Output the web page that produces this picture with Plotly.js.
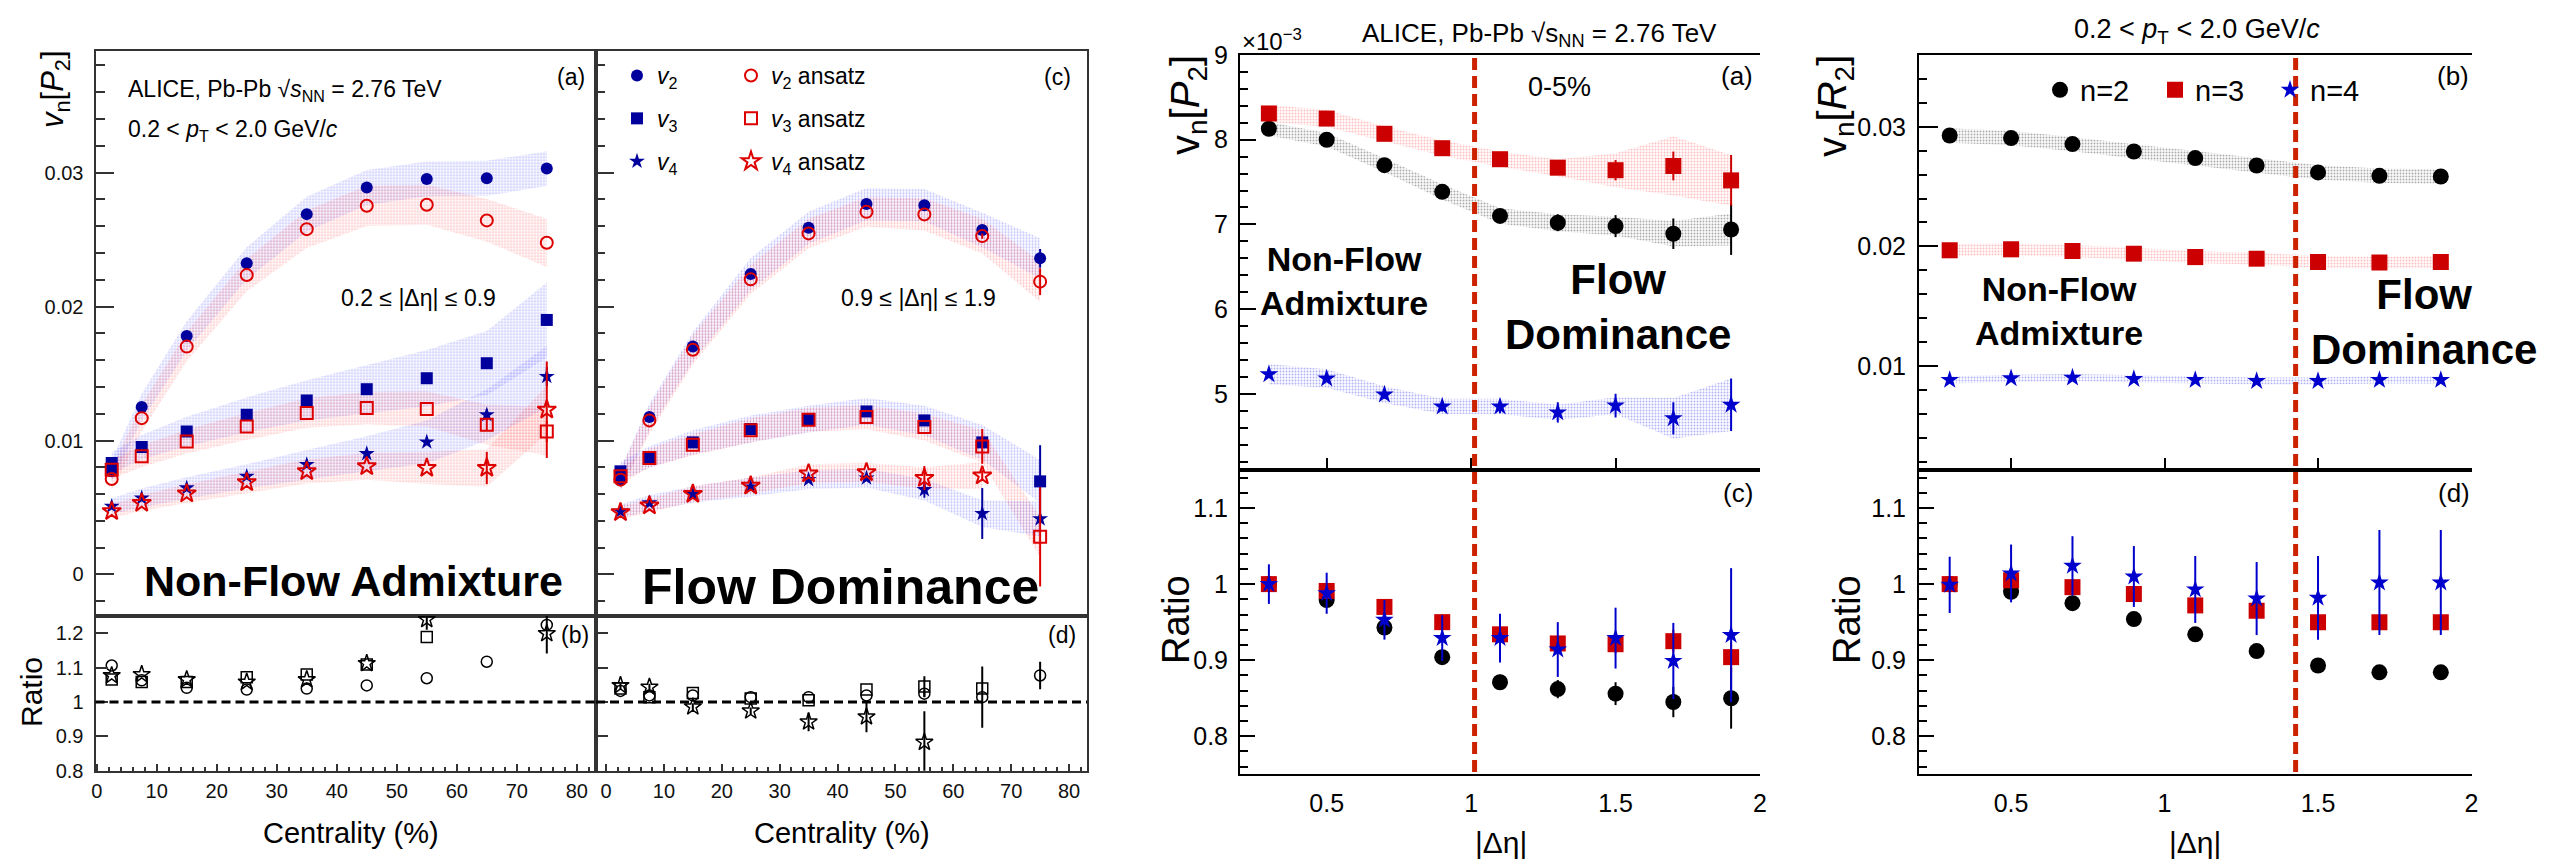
<!DOCTYPE html>
<html><head><meta charset="utf-8">
<script src="https://cdn.plot.ly/plotly-3.0.1.min.js"></script>
<style>html,body{margin:0;padding:0;background:#fff;} #chart{width:2559px;height:863px;}</style>
</head><body><div id="chart"></div>
<script>
// ---------------- DATA ----------------
// Left figure: centrality dependence
const centrality = [2.5, 7.5, 15, 25, 35, 45, 55, 65, 75];
// (a) 0.2 <= |deta| <= 0.9
const a_v2      = [0.0077, 0.0125, 0.01781, 0.02323, 0.0269, 0.02889, 0.02953, 0.02958, 0.0303];
const a_v2ans   = [0.00713, 0.01167, 0.01701, 0.02235, 0.02578, 0.02752, 0.0276, 0.02643, 0.02476];
const a_v3      = [0.00832, 0.00951, 0.01068, 0.01192, 0.01299, 0.01383, 0.01465, 0.01577, 0.0190];
const a_v3ans   = [0.00782, 0.00882, 0.00993, 0.01105, 0.01205, 0.01242, 0.01235, 0.01118, 0.01068];
const a_v4      = [0.00509, 0.00571, 0.00646, 0.00733, 0.0082, 0.00902, 0.00989, 0.01192, 0.01478];
const a_v4ans   = [0.00472, 0.00534, 0.00604, 0.00688, 0.0077, 0.00807, 0.00795, 0.00795, 0.0123];
const a_v3err    = [0, 0, 0, 0, 0, 0, 0, 0, 0.0004];
const a_v3anserr = [0, 0, 0, 0, 0, 0, 0, 0.0004, 0.0008];
const a_v4err    = [0, 0, 0, 0, 0, 0, 0, 0.0004, 0.0007];
const a_v4anserr = [0, 0, 0, 0, 0, 0, 0, 0.0012, 0.0036];
const a_v2sys    = [0.0008, 0.0010, 0.0011, 0.0012, 0.0013, 0.0013, 0.0013, 0.0013, 0.0013];
const a_v2anssys = [0.0008, 0.0010, 0.0011, 0.0012, 0.0014, 0.0015, 0.0015, 0.0016, 0.0018];
const a_v3sys    = [0.0008, 0.0009, 0.0011, 0.0013, 0.0015, 0.0018, 0.0021, 0.0024, 0.0028];
const a_v3anssys = [0.0007, 0.0008, 0.0009, 0.0010, 0.0011, 0.0012, 0.0013, 0.0015, 0.0018];
const a_v4sys    = [0.0006, 0.0007, 0.0008, 0.0009, 0.0011, 0.0013, 0.0016, 0.0019, 0.0023];
const a_v4anssys = [0.0005, 0.0006, 0.0007, 0.0008, 0.0009, 0.0010, 0.0012, 0.0014, 0.0018];
// (c) 0.9 <= |deta| <= 1.9
const c_v2      = [0.00705, 0.01175, 0.01701, 0.02243, 0.02588, 0.02765, 0.02757, 0.02571, 0.0236];
const c_v2ans   = [0.00708, 0.0115, 0.01677, 0.02203, 0.02546, 0.02707, 0.02688, 0.02526, 0.02186];
const c_v3      = [0.0077, 0.00877, 0.00986, 0.01086, 0.0116, 0.01217, 0.0115, 0.00986, 0.00695];
const c_v3ans   = [0.00733, 0.0087, 0.00969, 0.01076, 0.01155, 0.01175, 0.011, 0.00956, 0.00281];
const c_v4      = [0.00472, 0.00534, 0.00596, 0.00653, 0.00708, 0.0072, 0.00633, 0.00455, 0.00415];
const c_v4ans   = [0.00464, 0.00514, 0.00601, 0.00663, 0.00753, 0.00762, 0.0072, 0.00738, null];
const c_v2err    = [0, 0, 0, 0, 0, 0, 0, 0.0002, 0.0007];
const c_v2anserr = [0, 0, 0, 0, 0, 0, 0, 0.0002, 0.0010];
const c_v3err    = [0, 0, 0, 0, 0, 0, 0, 0.0004, 0.0027];
const c_v3anserr = [0, 0, 0, 0, 0, 0, 0, 0.0013, 0.0037];
const c_v4err    = [0, 0, 0, 0, 0, 0, 0.0006, 0.0019, 0.0004];
const c_v4anserr = [0, 0, 0, 0, 0, 0, 0.0009, 0.0004, 0];
const c_v2sys    = [0.0008, 0.0010, 0.0011, 0.0012, 0.0012, 0.0012, 0.0012, 0.0013, 0.0015];
const c_v2anssys = [0.0008, 0.0010, 0.0011, 0.0011, 0.0011, 0.0011, 0.0012, 0.0013, 0.0015];
const c_v3sys    = [0.0007, 0.0008, 0.0009, 0.0010, 0.0010, 0.0010, 0.0011, 0.0013, 0.0016];
const c_v3anssys = [0.0006, 0.0007, 0.0008, 0.0009, 0.0009, 0.0009, 0.0010, 0.0012, 0.0015];
const c_v4sys    = [0.0005, 0.0006, 0.0006, 0.0007, 0.0007, 0.0007, 0.0008, 0.0010, 0.0013];
const c_v4anssys = [0.0005, 0.0005, 0.0006, 0.0006, 0.0007, 0.0007, 0.0008, 0.0010, null];
// (b) ratios, 0.2 <= |deta| <= 0.9
const b_r2 = [1.106, 1.063, 1.041, 1.036, 1.039, 1.048, 1.069, 1.117, 1.224];
const b_r3 = [1.065, 1.058, 1.058, 1.072, 1.080, 1.109, 1.189, null, null];
const b_r4 = [1.077, 1.080, 1.065, 1.058, 1.065, 1.112, 1.240, null, 1.199];
const b_r4err = [0, 0, 0, 0, 0, 0, 0.03, 0, 0.058];
// (d) ratios, 0.9 <= |deta| <= 1.9
const d_r2 = [1.032, 1.019, 1.019, 1.014, 1.014, 1.019, 1.024, 1.014, 1.077];
const d_r3 = [1.039, 1.014, 1.026, 1.010, 1.005, 1.036, 1.045, 1.039, null];
const d_r4 = [1.048, 1.043, 0.986, 0.974, 0.942, 0.957, 0.883, null, null];
const d_r2err = [0, 0, 0, 0, 0, 0, 0.01, 0.089, 0.04];
const d_r3err = [0, 0, 0, 0, 0, 0, 0.03, 0, 0];
const d_r4err = [0.01, 0.01, 0.01, 0.01, 0.027, 0.045, 0.09, 0, 0];

// Right figure: |deta| dependence, 0-5%
const deta = [0.3, 0.5, 0.7, 0.9, 1.1, 1.3, 1.5, 1.7, 1.9];
// vn[P2] in units of 1e-3
const P_v2 = [8.13, 8.00, 7.70, 7.385, 7.10, 7.02, 6.98, 6.89, 6.94];
const P_v3 = [8.31, 8.25, 8.07, 7.90, 7.77, 7.67, 7.64, 7.69, 7.52];
const P_v4 = [5.23, 5.18, 4.99, 4.85, 4.85, 4.78, 4.86, 4.71, 4.87];
const P_v2err = [0.02, 0.02, 0.03, 0.04, 0.05, 0.10, 0.13, 0.18, 0.30];
const P_v3err = [0.03, 0.03, 0.04, 0.04, 0.05, 0.08, 0.12, 0.17, 0.30];
const P_v4err = [0.03, 0.04, 0.05, 0.06, 0.08, 0.12, 0.14, 0.19, 0.31];
const P_v2sys = [0.08, 0.08, 0.08, 0.09, 0.09, 0.10, 0.11, 0.15, 0.19];
const P_v3sys = [0.10, 0.10, 0.09, 0.09, 0.09, 0.10, 0.20, 0.35, 0.30];
const P_v4sys = [0.12, 0.11, 0.10, 0.09, 0.09, 0.09, 0.10, 0.24, 0.31];
// ratio (c)
const Pr_v2 = [1.0, 0.979, 0.943, 0.904, 0.871, 0.862, 0.856, 0.845, 0.850];
const Pr_v3 = [1.0, 0.991, 0.970, 0.950, 0.934, 0.922, 0.921, 0.925, 0.904];
const Pr_v4 = [1.0, 0.988, 0.953, 0.929, 0.929, 0.914, 0.929, 0.899, 0.933];
const Pr_v2err = [0.005, 0.006, 0.007, 0.008, 0.010, 0.012, 0.015, 0.020, 0.040];
const Pr_v3err = [0.008, 0.008, 0.010, 0.010, 0.010, 0.010, 0.012, 0.015, 0.020];
const Pr_v4err = [0.026, 0.027, 0.026, 0.030, 0.032, 0.036, 0.040, 0.050, 0.088];
// vn[R2]
const R_v2 = [0.02927, 0.02905, 0.02855, 0.02793, 0.02738, 0.02676, 0.02618, 0.0259, 0.02584];
const R_v3 = [0.01967, 0.01975, 0.01961, 0.01939, 0.0191, 0.01897, 0.01869, 0.01864, 0.01869];
const R_v4 = [0.00883, 0.00897, 0.00902, 0.00891, 0.00883, 0.00874, 0.00874, 0.00883, 0.00883];
const R_v2sys = [0.0006, 0.0006, 0.0006, 0.0006, 0.0006, 0.0006, 0.0006, 0.0006, 0.0006];
const R_v3sys = [0.0005, 0.0005, 0.0005, 0.0005, 0.0005, 0.0005, 0.0005, 0.0005, 0.0005];
const R_v4sys = [0.0003, 0.0003, 0.0003, 0.0003, 0.0003, 0.0003, 0.0003, 0.0003, 0.0003];
// ratio (d)
const Rr_v2 = [1.0, 0.990, 0.975, 0.954, 0.934, 0.912, 0.893, 0.884, 0.884];
const Rr_v3 = [1.0, 1.005, 0.996, 0.987, 0.972, 0.965, 0.950, 0.950, 0.950];
const Rr_v4 = [0.999, 1.014, 1.024, 1.010, 0.993, 0.981, 0.982, 1.002, 1.002];
const Rr_v4err = [0.037, 0.038, 0.039, 0.040, 0.044, 0.048, 0.055, 0.069, 0.069];
// region dividers (|deta|)
const dividerP = 1.012;
const dividerR = 1.427;

// ---------------- HELPERS ----------------
const W = 2559, H = 863;
const FONT = 'Liberation Sans, Arial, Helvetica, sans-serif';
const px = v => v / W;
const py = v => 1 - v / H;
const dx = (a, b) => [a / W, b / W];
const dy = (top, bottom) => [1 - bottom / H, 1 - top / H];

const BLUE_L = '#00009c', RED_L = '#dd0000';
const BLUE_R = '#0000cc', RED_R = '#cc0000', BLACK = '#000000';
const RGB_BL = '90,90,255', RGB_RD = '255,90,90', RGB_BK = '60,60,60', RGB_BR = '60,60,235';

function band(x, y, s, xa, ya, rgb, alpha) {
  const a = alpha || 0.38;
  const xs = [], up = [], lo = [];
  x.forEach((xv, i) => {
    if (y[i] !== null && s[i] !== null) { xs.push(xv); up.push(y[i] + s[i]); lo.push(y[i] - s[i]); }
  });
  return {
    type: 'scatter', mode: 'lines', xaxis: xa, yaxis: ya,
    x: xs.concat(xs.slice().reverse()), y: up.concat(lo.slice().reverse()),
    fill: 'toself', fillcolor: `rgba(${rgb},0.03)`,
    fillpattern: {shape: '.', size: 3, solidity: 0.3, fgcolor: `rgba(${rgb},${a})`, bgcolor: `rgba(${rgb},0.025)`},
    line: {width: 0, color: 'rgba(0,0,0,0)'}, hoverinfo: 'skip', showlegend: false
  };
}
function pts(x, y, err, xa, ya, sym, size, color, open, lw, extra) {
  const t = {
    type: 'scatter', mode: 'markers', xaxis: xa, yaxis: ya, x: x, y: y,
    showlegend: false, hoverinfo: 'skip',
    marker: open ? {symbol: sym + '-open', size: size, color: color, line: {color: color, width: lw || 2}}
                 : {symbol: sym, size: size, color: color, line: {width: 0}}
  };
  if (err) t.error_y = {type: 'data', array: err, visible: true, color: color, thickness: 2, width: 0};
  return Object.assign(t, extra || {});
}

// ---------------- TRACES ----------------
const traces = [];
// Left (a)
traces.push(band(centrality, a_v2, a_v2sys, 'x', 'y', RGB_BL));
traces.push(band(centrality, a_v2ans, a_v2anssys, 'x', 'y', RGB_RD));
traces.push(band(centrality, a_v3, a_v3sys, 'x', 'y', RGB_BL));
traces.push(band(centrality, a_v3ans, a_v3anssys, 'x', 'y', RGB_RD));
traces.push(band(centrality, a_v4, a_v4sys, 'x', 'y', RGB_BL));
traces.push(band(centrality, a_v4ans, a_v4anssys, 'x', 'y', RGB_RD));
traces.push(pts(centrality, a_v2, null, 'x', 'y', 'circle', 12, BLUE_L, false));
traces.push(pts(centrality, a_v3, a_v3err, 'x', 'y', 'square', 12, BLUE_L, false));
traces.push(pts(centrality, a_v4, a_v4err, 'x', 'y', 'star', 12, BLUE_L, false));
traces.push(pts(centrality, a_v2ans, null, 'x', 'y', 'circle', 12, RED_L, true));
traces.push(pts(centrality, a_v3ans, a_v3anserr, 'x', 'y', 'square', 12, RED_L, true));
traces.push(pts(centrality, a_v4ans, a_v4anserr, 'x', 'y', 'star', 14, RED_L, true));
// Left (c)
traces.push(band(centrality, c_v2, c_v2sys, 'x2', 'y2', RGB_BL));
traces.push(band(centrality, c_v2ans, c_v2anssys, 'x2', 'y2', RGB_RD));
traces.push(band(centrality, c_v3, c_v3sys, 'x2', 'y2', RGB_BL));
traces.push(band(centrality, c_v3ans, c_v3anssys, 'x2', 'y2', RGB_RD));
traces.push(band(centrality, c_v4, c_v4sys, 'x2', 'y2', RGB_BL));
traces.push(band(centrality, c_v4ans, c_v4anssys, 'x2', 'y2', RGB_RD));
const lg = (legend, name, grp) => ({showlegend: true, legend: legend, name: name, legendgroup: grp});
traces.push(pts(centrality, c_v2, c_v2err, 'x2', 'y2', 'circle', 12, BLUE_L, false, 0, lg('legend', '<i>v</i><sub>2</sub>', 'g1')));
traces.push(pts(centrality, c_v3, c_v3err, 'x2', 'y2', 'square', 12, BLUE_L, false, 0, lg('legend', '<i>v</i><sub>3</sub>', 'g2')));
traces.push(pts(centrality, c_v4, c_v4err, 'x2', 'y2', 'star', 12, BLUE_L, false, 0, lg('legend', '<i>v</i><sub>4</sub>', 'g3')));
traces.push(pts(centrality, c_v2ans, c_v2anserr, 'x2', 'y2', 'circle', 12, RED_L, true, 2, lg('legend2', '<i>v</i><sub>2</sub> ansatz', 'g4')));
traces.push(pts(centrality, c_v3ans, c_v3anserr, 'x2', 'y2', 'square', 12, RED_L, true, 2, lg('legend2', '<i>v</i><sub>3</sub> ansatz', 'g5')));
traces.push(pts(centrality, c_v4ans, c_v4anserr, 'x2', 'y2', 'star', 14, RED_L, true, 2, lg('legend2', '<i>v</i><sub>4</sub> ansatz', 'g6')));
// Left ratios (b), (d)
traces.push(pts(centrality, b_r2, null, 'x3', 'y3', 'circle', 11, BLACK, true, 1.5));
traces.push(pts(centrality, b_r3, null, 'x3', 'y3', 'square', 11, BLACK, true, 1.5));
traces.push(pts(centrality, b_r4, b_r4err, 'x3', 'y3', 'star', 13, BLACK, true, 1.5));
traces.push(pts(centrality, d_r2, d_r2err, 'x4', 'y4', 'circle', 11, BLACK, true, 1.5));
traces.push(pts(centrality, d_r3, d_r3err, 'x4', 'y4', 'square', 11, BLACK, true, 1.5));
traces.push(pts(centrality, d_r4, d_r4err, 'x4', 'y4', 'star', 13, BLACK, true, 1.5));
// Right (a)
traces.push(band(deta, P_v2, P_v2sys, 'x5', 'y5', RGB_BK, 0.42));
traces.push(band(deta, P_v3, P_v3sys, 'x5', 'y5', RGB_RD));
traces.push(band(deta, P_v4, P_v4sys, 'x5', 'y5', RGB_BR));
traces.push(pts(deta, P_v2, P_v2err, 'x5', 'y5', 'circle', 16, BLACK, false));
traces.push(pts(deta, P_v3, P_v3err, 'x5', 'y5', 'square', 16, RED_R, false));
traces.push(pts(deta, P_v4, P_v4err, 'x5', 'y5', 'star', 14, BLUE_R, false));
// Right (c)
traces.push(pts(deta, Pr_v2, Pr_v2err, 'x6', 'y6', 'circle', 16, BLACK, false));
traces.push(pts(deta, Pr_v3, Pr_v3err, 'x6', 'y6', 'square', 16, RED_R, false));
traces.push(pts(deta, Pr_v4, Pr_v4err, 'x6', 'y6', 'star', 14, BLUE_R, false));
// Right (b)
traces.push(band(deta, R_v2, R_v2sys, 'x7', 'y7', RGB_BK, 0.42));
traces.push(band(deta, R_v3, R_v3sys, 'x7', 'y7', RGB_RD));
traces.push(band(deta, R_v4, R_v4sys, 'x7', 'y7', RGB_BR));
traces.push(pts(deta, R_v2, null, 'x7', 'y7', 'circle', 16, BLACK, false, 0, lg('legend3', 'n=2', 'h1')));
traces.push(pts(deta, R_v3, null, 'x7', 'y7', 'square', 16, RED_R, false, 0, lg('legend3', 'n=3', 'h2')));
traces.push(pts(deta, R_v4, null, 'x7', 'y7', 'star', 14, BLUE_R, false, 0, lg('legend3', 'n=4', 'h3')));
// Right (d)
traces.push(pts(deta, Rr_v2, null, 'x8', 'y8', 'circle', 16, BLACK, false));
traces.push(pts(deta, Rr_v3, null, 'x8', 'y8', 'square', 16, RED_R, false));
traces.push(pts(deta, Rr_v4, Rr_v4err, 'x8', 'y8', 'star', 14, BLUE_R, false));

// ---------------- AXES ----------------
function axL(o) {
  return Object.assign({showgrid: false, zeroline: false, showline: true, mirror: true,
    linecolor: '#333', linewidth: 2, ticks: 'inside', tickcolor: '#333', tickwidth: 1.5,
    tickfont: {family: FONT, size: 20, color: '#111'}}, o);
}
function axR(o) {
  return Object.assign({showgrid: false, zeroline: false, showline: true, mirror: true,
    linecolor: '#000', linewidth: 2, ticks: 'inside', tickcolor: '#000', tickwidth: 2,
    tickfont: {family: FONT, size: 25, color: '#000'}}, o);
}
const LA = dx(95.5, 596), LC = dx(596, 1087);
const LTOP = dy(50.7, 616), LRAT = dy(616, 770.7);
const RA = dx(1240, 1760), RB = dx(1919, 2471.5);
const RTOP = dy(55, 470), RRAT = dy(470, 774.3);
const xrA = [-0.2, 83.2], xrC = [-1.73, 83.1];
const yTopL = {range: [-0.0031, 0.0391], tick0: 0, dtick: 0.01, ticklen: 18,
  minor: {ticks: 'inside', dtick: 0.002, tick0: 0, ticklen: 9, tickcolor: '#333', tickwidth: 1.5}};
const yRatL = {range: [0.8, 1.25], tick0: 0.8, dtick: 0.1, ticklen: 12};
const xRatLminor = {ticks: 'inside', dtick: 2, tick0: 0, ticklen: 4, tickcolor: '#333', tickwidth: 1.5};

const layout = {
  width: W, height: H, margin: {l: 0, r: 0, t: 0, b: 0},
  paper_bgcolor: '#fff', plot_bgcolor: 'rgba(0,0,0,0)',
  font: {family: FONT, color: '#000'},
  xaxis:  axL({domain: LA, range: xrA, anchor: 'y', ticks: '', showticklabels: false}),
  yaxis:  axL(Object.assign({domain: LTOP, anchor: 'x', ticklabelstandoff: 6}, yTopL)),
  xaxis2: axL({domain: LC, range: xrC, anchor: 'y2', ticks: '', showticklabels: false}),
  yaxis2: axL(Object.assign({domain: LTOP, anchor: 'x2', showticklabels: false}, yTopL)),
  xaxis3: axL({domain: LA, range: xrA, anchor: 'y3', tick0: 0, dtick: 10, ticklen: 7, minor: xRatLminor, ticklabelstandoff: 1}),
  yaxis3: axL(Object.assign({domain: LRAT, anchor: 'x3', ticklabelstandoff: 6}, yRatL)),
  xaxis4: axL({domain: LC, range: xrC, anchor: 'y4', tick0: 0, dtick: 10, ticklen: 7, minor: xRatLminor, ticklabelstandoff: 1}),
  yaxis4: axL(Object.assign({domain: LRAT, anchor: 'x4', showticklabels: false}, yRatL)),

  xaxis5: axR({domain: RA, range: [0.2, 2.0], anchor: 'y5', tick0: 0, dtick: 0.5, ticklen: 12, showticklabels: false}),
  yaxis5: axR({domain: RTOP, anchor: 'x5', range: [4.1, 9.0005], tick0: 0, dtick: 1, ticklen: 16, mirror: false,
    minor: {ticks: 'inside', dtick: 0.2, tick0: 0, ticklen: 8, tickcolor: '#000', tickwidth: 2}, ticklabelstandoff: 5}),
  xaxis6: axR({domain: RA, range: [0.2, 2.0], anchor: 'y6', tick0: 0, dtick: 0.5, ticks: '', ticklabelstandoff: 6}),
  yaxis6: axR({domain: RRAT, anchor: 'x6', range: [0.75, 1.15], tick0: 0, dtick: 0.1, ticklen: 15, mirror: false,
    minor: {ticks: 'inside', dtick: 0.02, tick0: 0, ticklen: 8, tickcolor: '#000', tickwidth: 2}, ticklabelstandoff: 5}),
  xaxis7: axR({domain: RB, range: [0.2, 2.0], anchor: 'y7', tick0: 0, dtick: 0.5, ticklen: 12, showticklabels: false}),
  yaxis7: axR({domain: RTOP, anchor: 'x7', range: [0.0013, 0.036], tick0: 0, dtick: 0.01, ticklen: 19, mirror: false,
    minor: {ticks: 'inside', dtick: 0.002, tick0: 0, ticklen: 8, tickcolor: '#000', tickwidth: 2}, ticklabelstandoff: 6}),
  xaxis8: axR({domain: RB, range: [0.2, 2.0], anchor: 'y8', tick0: 0, dtick: 0.5, ticks: '', ticklabelstandoff: 6}),
  yaxis8: axR({domain: RRAT, anchor: 'x8', range: [0.75, 1.15], tick0: 0, dtick: 0.1, ticklen: 15, mirror: false,
    minor: {ticks: 'inside', dtick: 0.02, tick0: 0, ticklen: 8, tickcolor: '#000', tickwidth: 2}, ticklabelstandoff: 6}),

  legend: {x: px(617), xanchor: 'left', y: py(54), yanchor: 'top', bgcolor: 'rgba(0,0,0,0)',
    font: {family: FONT, size: 23, color: '#000'}, tracegroupgap: 10, itemclick: false},
  legend2: {x: px(731), xanchor: 'left', y: py(54), yanchor: 'top', bgcolor: 'rgba(0,0,0,0)',
    font: {family: FONT, size: 23, color: '#000'}, tracegroupgap: 10, itemclick: false},
  legend3: {orientation: 'h', x: px(2040), xanchor: 'left', y: py(90), yanchor: 'middle', bgcolor: 'rgba(0,0,0,0)',
    font: {family: FONT, size: 29, color: '#000'}, entrywidth: 70, entrywidthmode: 'pixels', itemclick: false},

  shapes: [
    {type: 'line', xref: 'x3 domain', yref: 'y3', x0: 0, x1: 1, y0: 1, y1: 1, line: {color: '#000', width: 3, dash: '9px,5px'}},
    {type: 'line', xref: 'x4 domain', yref: 'y4', x0: 0, x1: 1, y0: 1, y1: 1, line: {color: '#000', width: 3, dash: '9px,5px'}},
    {type: 'line', xref: 'x5', yref: 'paper', x0: dividerP, x1: dividerP, y0: py(772), y1: py(57), line: {color: '#cc2200', width: 5, dash: '12px,6px'}},
    {type: 'line', xref: 'x7', yref: 'paper', x0: dividerR, x1: dividerR, y0: py(772), y1: py(57), line: {color: '#cc2200', width: 5, dash: '12px,6px'}}
  ],
  annotations: []
};

function ann(text, x, y, size, o) {
  layout.annotations.push(Object.assign({text: text, xref: 'paper', yref: 'paper', x: px(x), y: py(y),
    xanchor: 'center', yanchor: 'middle', showarrow: false, font: {family: FONT, size: size, color: '#000'}}, o || {}));
}
// Left figure texts
ann('ALICE, Pb-Pb √<i>s</i><sub>NN</sub> = 2.76 TeV', 126, 90, 23, {xanchor: 'left'});
ann('0.2 < <i>p</i><sub>T</sub> < 2.0 GeV/<i>c</i>', 126, 131, 23, {xanchor: 'left'});
ann('(a)', 571, 77, 23);
ann('(c)', 1057, 77, 23);
ann('(b)', 575, 635, 23);
ann('(d)', 1062, 635, 23);
ann('0.2 ≤ |Δη| ≤ 0.9', 418, 298, 23);
ann('0.9 ≤ |Δη| ≤ 1.9', 918, 298, 23);
ann('<b>Non-Flow Admixture</b>', 353, 581, 43);
ann('<b>Flow Dominance</b>', 840, 587, 50);
ann('<i>v</i><sub>n</sub>[<i>P</i><sub>2</sub>]', 55, 89, 31, {textangle: -90});
ann('Ratio', 31, 692, 30, {textangle: -90});
ann('Centrality (%)', 351, 833, 29);
ann('Centrality (%)', 842, 833, 29);
// Right figure texts
ann('ALICE, Pb-Pb √s<sub>NN</sub> = 2.76 TeV', 1539, 34, 26);
ann('×10<sup>−3</sup>', 1240, 40, 24, {xanchor: 'left'});
ann('0-5%', 1559, 87, 27);
ann('(a)', 1737, 76, 26);
ann('(c)', 1738, 493, 26);
ann('(b)', 2453, 76, 26);
ann('(d)', 2454, 493, 26);
ann('<b>Non-Flow<br>Admixture</b>', 1344, 281, 34);
ann('<b>Flow<br>Dominance</b>', 1618, 307, 42);
ann('0.2 < <i>p</i><sub>T</sub> < 2.0 GeV/<i>c</i>', 2197, 31, 27);
ann('<b>Non-Flow<br>Admixture</b>', 2059, 311, 34);
ann('<b>Flow<br>Dominance</b>', 2424, 322, 42);
ann('v<sub>n</sub>[<i>P</i><sub>2</sub>]', 1188, 105, 40, {textangle: -90});
ann('v<sub>n</sub>[<i>R</i><sub>2</sub>]', 1835, 106, 40, {textangle: -90});
ann('Ratio', 1176, 620, 38, {textangle: -90});
ann('Ratio', 1847, 620, 38, {textangle: -90});
ann('|Δη|', 1501, 842, 30);
ann('|Δη|', 2195, 842, 30);

Plotly.newPlot('chart', traces, layout, {displayModeBar: false, responsive: false});
</script></body></html>
